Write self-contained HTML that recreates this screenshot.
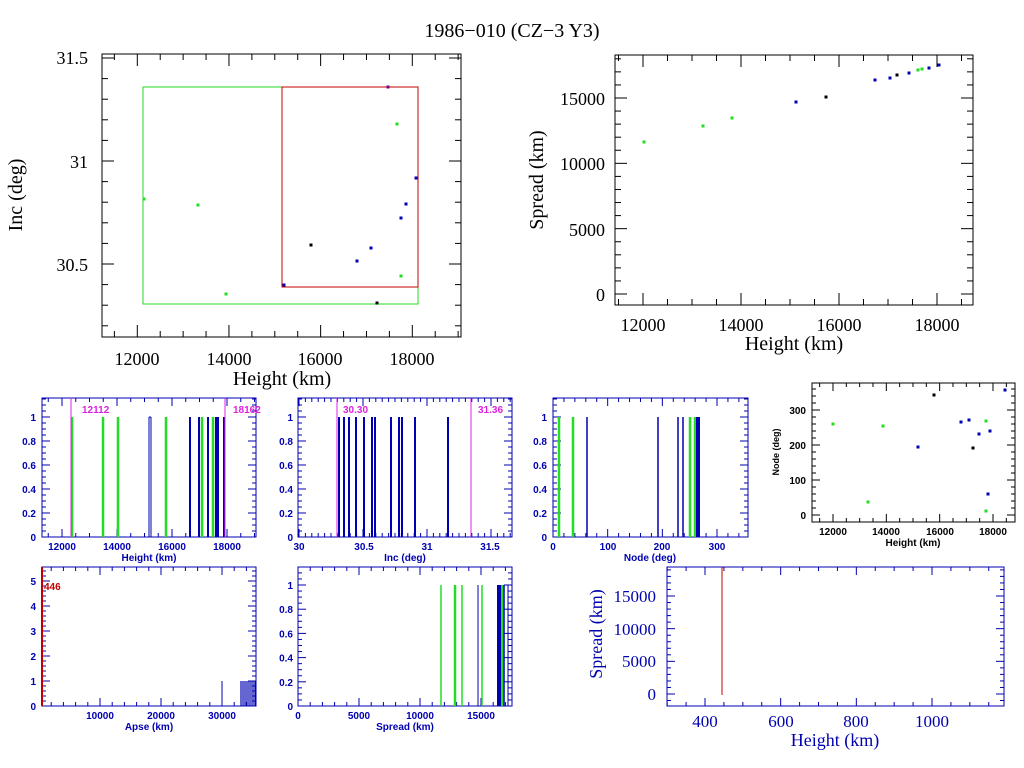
<!DOCTYPE html>
<html><head><meta charset="utf-8"><style>
body{margin:0;background:#fff}
svg{display:block}
</style></head><body>
<svg id="c" width="1024" height="768" xmlns="http://www.w3.org/2000/svg"></svg>
<script>
const S=document.getElementById('c');let h='';
const K='#000',B='#0000b0',G='#22dd22',R='#c00000',M='#e020e0',P='#800080';
function box(x1,y1,x2,y2,c){h+=`<rect x="${x1}" y="${y1}" width="${x2-x1}" height="${y2-y1}" fill="none" stroke="${c}" stroke-width="1"/>`;}
function t(x,y,s,sz,c,anc='middle',rot=0,fam='Liberation Serif',w='normal'){h+=`<text x="${x}" y="${y}" font-family="${fam}" font-size="${sz}" fill="${c}" text-anchor="${anc}" font-weight="${w}"${rot?` transform="rotate(${rot} ${x} ${y})"`:''}>${s}</text>`;}
function l(x1,y1,x2,y2,c,w=1){h+=`<line x1="${x1}" y1="${y1}" x2="${x2}" y2="${y2}" stroke="${c}" stroke-width="${w}"/>`;}
function lin(v1,p1,v2,p2){return v=>p1+(v-v1)*(p2-p1)/(v2-v1);}
function isM(v,maj){return Math.abs(v/maj-Math.round(v/maj))<1e-6;}
function xt(x1,y1,x2,y2,f,step,maj,c,len){for(let i=-2000;i<=2000;i++){const v=i*step;const x=f(v);if(x<x1-0.01||x>x2+0.01)continue;const L=isM(v,maj)?len*2:len;l(x,y2,x,y2-L,c);l(x,y1,x,y1+L,c);}}
function yt(x1,y1,x2,y2,f,step,maj,c,len){for(let i=-2000;i<=2000;i++){const v=i*step;const y=f(v);if(y<y1-0.01||y>y2+0.01)continue;const L=isM(v,maj)?len*2:len;l(x1,y,x1+L,y,c);l(x2,y,x2-L,y,c);}}
function pt(x,y,c,s=3){h+=`<rect x="${x-1.5}" y="${y-1.5}" width="${s}" height="${s}" fill="${c}"/>`;}
t(512,37,'1986−010 (CZ−3 Y3)',20,K);
// Panel 1
box(102,54,461,337,K);
xt(102,54,461,337,lin(12000,137.3,18000,412.3),500,2000,K,6);
yt(102,54,461,337,lin(31,161,30.5,264),0.1,0.5,K,6);
[[12000,137],[14000,229],[16000,320],[18000,412]].forEach(a=>t(a[1],365,a[0],18,K));
t(88,64,'31.5',18,K,'end');t(88,168,'31',18,K,'end');t(88,271,'30.5',18,K,'end');
t(282,385,'Height (km)',20,K);t(22,195,'Inc (deg)',20,K,'middle',-90);
h+=`<rect x="143" y="87" width="275" height="217" fill="none" stroke="${G}"/>`;
h+=`<rect x="282" y="87" width="136" height="200" fill="none" stroke="${R}"/>`;
[[388,87,P],[397,124,G],[416,178,B],[406,204,B],[401,218,B],[311,245,K],[371,248,B],[357,261,B],[401,276,G],[284,285,B],[377,303,K],[144,199,G],[198,205,G],[226,294,G]].forEach(p=>pt(p[0],p[1],p[2]));
// Panel 2
box(615,55,973,305,K);
xt(615,55,973,305,lin(12000,643,18000,937),500,2000,K,6);
yt(615,55,973,305,lin(0,294,15000,98),1000,5000,K,6);
[[12000,643],[14000,741],[16000,839],[18000,937]].forEach(a=>t(a[1],331,a[0],18,K));
[[0,294],[5000,229],[10000,163],[15000,98]].forEach(a=>t(605,a[1]+7,a[0],18,K,'end'));
t(794,350,'Height (km)',20,K);t(543,180,'Spread (km)',20,K,'middle',-90);
[[644,142,G],[703,126,G],[732,118,G],[796,102,B],[826,97,K],[875,80,B],[890,78,B],[897,75,K],[909,73,B],[918,70,G],[922,69,G],[929,68,B],[939,65,B]].forEach(p=>pt(p[0],p[1],p[2]));
const F='Liberation Sans';
function st(x,y,s,c,anc='middle',rot=0,sz=10){t(x,y,s,sz,c,anc,rot,F,'bold');}
function ylab(x,top1,bot,vals){vals.forEach(v=>{const y=bot-(bot-top1)*v;st(x,y+4,v==0?'0':v==1?'1':v.toFixed(1),B,'end');});}
const Y01=lin(0,537,1,417);
// Hist A
box(42,398,256,537,B);
xt(42,398,256,537,lin(12000,62,18000,227),500,2000,B,4);yt(42,398,256,537,Y01,0.05,0.2,B,4);
ylab(36,417,537,[0,0.2,0.4,0.6,0.8,1]);
[[12000,62],[14000,117],[16000,172],[18000,227]].forEach(a=>st(a[1],550,a[0],B));st(149,561,'Height (km)',B);
[72,103,118,166,202,213].forEach(x=>l(x,417,x,537,G,2.5));
l(149,417,149,537,B);l(151,417,151,537,B);l(149,417,151,417,B);
[190,199,208,216,218,224].forEach(x=>l(x,417,x,537,B,2));
l(71,398,71,537,M);l(225,398,225,537,M);st(82,413,'12112',M,'start');st(233,413,'18162',M,'start');
// Hist B
box(298,398,512,537,B);
xt(298,398,512,537,lin(30,299,31,427),0.05,0.5,B,4);yt(298,398,512,537,Y01,0.05,0.2,B,4);
ylab(293,417,537,[0,0.2,0.4,0.6,0.8,1]);
[['30',299],['30.5',364],['31',427],['31.5',490]].forEach(a=>st(a[1],550,a[0],B));st(405,561,'Inc (deg)',B);
[339,344,349,356,364,372,375,391,399,402,415,448].forEach(x=>l(x,417,x,537,B,2));
l(337,398,337,537,M);l(471,398,471,537,M);st(343,413,'30.30',M,'start');st(478,413,'31.36',M,'start');
// Hist C
box(553,398,748,537,B);
xt(553,398,748,537,lin(0,553,300,717),20,100,B,4);yt(553,398,748,537,Y01,0.05,0.2,B,4);
ylab(547,417,537,[0,0.2,0.4,0.6,0.8,1]);
[[0,553],[100,608],[200,662],[300,717]].forEach(a=>st(a[1],550,a[0],B));st(650,561,'Node (deg)',B);
[559,573,690,695].forEach(x=>l(x,417,x,537,G,2.5));[587,658,678,683].forEach(x=>l(x,417,x,537,B,1.5));l(698,417,698,537,B,4);
// Panel D
box(812,383,1015,522,K);
xt(812,383,1015,522,lin(12000,833,18000,993),500,2000,K,4);yt(812,383,1015,522,lin(0,515,300,410),20,100,K,4);
[12000,14000,16000,18000].forEach((a,i)=>st([833,886,940,993][i],535,a,K));
[[0,515],[100,480],[200,445],[300,410]].forEach(a=>st(806,a[1]+4,a[0],K,'end'));
st(913,546,'Height (km)',K);st(779,452,'Node (deg)',K,'middle',-90,9);
[[833,424,G],[868,502,G],[883,426,G],[918,447,B],[934,395,K],[961,422,B],[969,420,B],[979,434,B],[986,421,G],[973,448,K],[990,431,B],[988,494,B],[986,511,G],[1005,390,B]].forEach(p=>pt(p[0],p[1],p[2]));
// Apse
box(42,567,256,706,B);
xt(42,567,256,706,lin(10000,100,30000,222),2000,10000,B,4);
yt(42,567,256,706,lin(0,706,5,581),0.2,1,B,4);
[0,1,2,3,4,5].forEach(v=>st(36,706-25*v+4,v,B,'end'));
[[10000,100],[20000,161],[30000,222]].forEach(a=>st(a[1],719,a[0],B));st(149,730,'Apse (km)',B);
l(42,567,42,706,R,2);st(44,590,'446',R,'start');
l(222,681,222,706,B);[241,243,245,247,249,251,253,255].forEach(x=>l(x,681,x,706,B,1.2));
// Spread hist
box(298,567,512,706,B);
xt(298,567,512,706,lin(0,298,15000,481),1000,5000,B,4);yt(298,567,512,706,lin(0,706,1,585),0.05,0.2,B,4);
ylab(293,585,706,[0,0.2,0.4,0.6,0.8,1]);
[[0,298],[5000,359],[10000,420],[15000,481]].forEach(a=>st(a[1],719,a[0],B));st(405,730,'Spread (km)',B);
[441,462,482].forEach(x=>l(x,585,x,706,G,1.5));l(455,585,455,706,G,2.5);l(502,585,502,706,G,2.5);
l(478,585,478,706,B);h+=`<rect x="497" y="585" width="4" height="121" fill="${B}"/>`;l(504,585,504,706,B,1.5);l(508,585,508,706,B);
// bottom right
box(667,567,1004,706,B);
xt(667,567,1004,706,lin(400,705,1000,932),50,200,B,4);yt(667,567,1004,706,lin(0,694,15000,596),1000,5000,B,4);
[[400,705],[600,781],[800,856],[1000,932]].forEach(a=>t(a[1],727,a[0],17,B));
[[0,694],[5000,661],[10000,629],[15000,596]].forEach(a=>t(656,a[1]+6,a[0],17,B,'end'));
t(835,746,'Height (km)',18,B);t(602,634,'Spread (km)',18,B,'middle',-90);
l(722,567,722,695,R,1);
S.innerHTML=h;
</script>
</body></html>
